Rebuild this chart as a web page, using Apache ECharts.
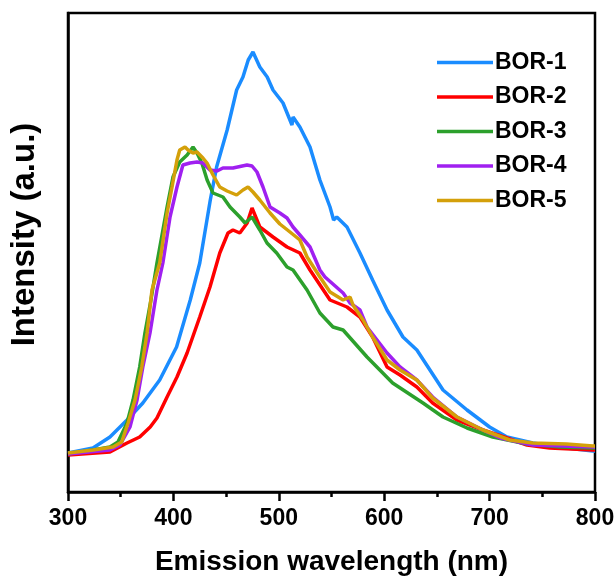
<!DOCTYPE html>
<html>
<head>
<meta charset="utf-8">
<script src="https://cdn.jsdelivr.net/npm/echarts@6/dist/echarts.min.js"></script>
<style>html,body{margin:0;padding:0;background:#fff;}#c{width:615px;height:578px;}</style>
</head>
<body>
<div id="c"></div>
<script>
var seriesNames = ['BOR-1','BOR-2','BOR-3','BOR-4','BOR-5'];
var xTicks = [300,400,500,600,700,800];

var bor1 = [[300,39],[323.7,44],[339.8,55],[356,72],[371,89],[387,112],[403,145],[416,192],[425,229],[435,292],[441,325],[451,362],[460,402],[466,415],[471,432],[475.5,440],[482,425],[489,415],[494.5,402],[504,389],[512.5,367],[513.5,375],[520,365],[529.6,345],[539,312],[548.6,285],[552,272],[555,275],[564.7,265],[577,239],[589,212],[602.7,182],[617.8,155],[631,142],[655.8,102],[678.6,82],[700,65],[716.5,55],[741,49],[773,44],[798,41],[800,41]];
var bor2 = [[300,37],[339.8,40],[356,49],[368,55],[378,65],[384.4,74],[394,95],[403.4,115],[413,139],[425,175],[434.7,205],[444,239],[451.8,259],[456.5,262],[463,259],[470,269],[474.6,284],[482,265],[494.5,255],[507.8,245],[520,239],[529.6,222],[548.6,192],[564.7,185],[577,175],[589,155],[602.7,125],[615,117],[631,105],[646,89],[669,72],[693.7,62],[716.5,54],[735.5,47],[757,44],[798,42],[800,42]];
var bor3 = [[300,38],[323.7,42],[339.8,45],[347.4,50],[356,69],[361.7,92],[368,125],[373,159],[378.7,192],[384.4,229],[394,285],[399.6,315],[406,330],[413,337],[418.6,345],[422.4,339],[427,329],[432,312],[437.6,299],[447,295],[453.7,285],[463,275],[468,269],[474.6,275],[482,262],[488.8,249],[498,239],[507.8,225],[513.5,222],[526.8,202],[539,179],[551.4,165],[561,162],[583.7,135],[608,109],[636.8,89],[655.8,75],[678.6,64],[703,55],[735.5,48],[766.8,45],[798,44],[800,44]];
var bor4 = [[300,38],[339.8,42],[349.3,47],[358.8,65],[365.5,92],[371,125],[377.8,159],[384.4,202],[390,229],[396.8,275],[403.4,305],[409,327],[415.7,329],[422.4,330],[428,329],[434.7,322],[441.4,321],[447,324],[456.5,324],[469.8,327],[474.6,326],[479.3,320],[485,305],[491.7,285],[501,279],[507.8,274],[513.5,265],[520,257],[529.6,245],[539,222],[543.8,215],[561,199],[567.6,189],[577,182],[583.7,165],[602.7,139],[615,125],[631,112],[646,95],[669,75],[693.7,62],[710,54],[741,47],[798,45],[800,45]];
var bor5 = [[300,39],[323.7,42],[342.7,45],[351,50],[357,69],[363.6,92],[370,125],[375,159],[379.7,202],[387,229],[394,279],[398.7,305],[403.4,332],[406,342],[411,345],[413.9,342],[418.6,339],[422.4,340],[428,334],[431.9,329],[437.6,317],[444,305],[450.9,301],[460,297],[466,302],[470.8,305],[475.5,300],[482,292],[491.7,279],[501,268],[510.6,260],[520,252],[526.8,235],[539,215],[548.6,200],[561,192],[567.6,195],[570.4,187],[580,172],[589,155],[602.7,132],[615,122],[631,112],[646,94],[669,75],[693.7,62],[719,52],[741,49],[773,48],[798,46],[800,46]];

var colors = ['#1a8cff','#ff0000','#2ca02c','#a020f0','#d4a00a'];
var dataSets = [bor1,bor2,bor3,bor4,bor5];

var chart = echarts.init(document.getElementById('c'), null, {renderer:'canvas'});
var font = 'Liberation Sans, Arial, sans-serif';
chart.setOption({
  animation: false,
  backgroundColor: '#fff',
  grid: {left: 68, right: 20, top: 13, bottom: 86, show: true, borderColor: '#000', borderWidth: 2.5, containLabel: false, outerBoundsMode: 'none'},
  legend: {
    orient: 'vertical', left: 432, top: 46,
    icon: 'rect', itemWidth: 56, itemHeight: 3.5, itemGap: 11.5,
    data: seriesNames,
    textStyle: {fontFamily: font, fontWeight: 'bold', fontSize: 23, color: '#000', lineHeight: 23, padding: [0,0,0,-3]}
  },
  xAxis: {
    type: 'value', min: xTicks[0], max: xTicks[xTicks.length-1], interval: 100,
    name: 'Emission wavelength (nm)', nameLocation: 'middle', nameGap: 56,
    nameTextStyle: {fontFamily: font, fontWeight: 'bold', fontSize: 28, color: '#000'},
    axisLine: {show: true, lineStyle: {color: '#000', width: 2.5}},
    axisTick: {show: true, inside: false, length: 9, lineStyle: {color: '#000', width: 2.5}},
    minorTick: {show: true, splitNumber: 2, length: 5, lineStyle: {color: '#000', width: 2.5}},
    axisLabel: {fontFamily: font, fontWeight: 'bold', fontSize: 23, color: '#000', margin: 15},
    splitLine: {show: false}
  },
  yAxis: {
    type: 'value', min: 0, max: 479,
    name: 'Intensity (a.u.)', nameLocation: 'middle', nameGap: 27,
    nameTextStyle: {fontFamily: font, fontWeight: 'bold', fontSize: 33, color: '#000', padding: [0,0,0,36]},
    axisLine: {show: true, lineStyle: {color: '#000', width: 2.5}},
    axisTick: {show: false},
    axisLabel: {show: false},
    splitLine: {show: false}
  },
  series: seriesNames.map(function(n, i){
    return {
      name: n, type: 'line', data: dataSets[i], symbol: 'none', smooth: false,
      lineStyle: {color: colors[i], width: 3.5}, itemStyle: {color: colors[i]}
    };
  })
});
</script>
</body>
</html>
